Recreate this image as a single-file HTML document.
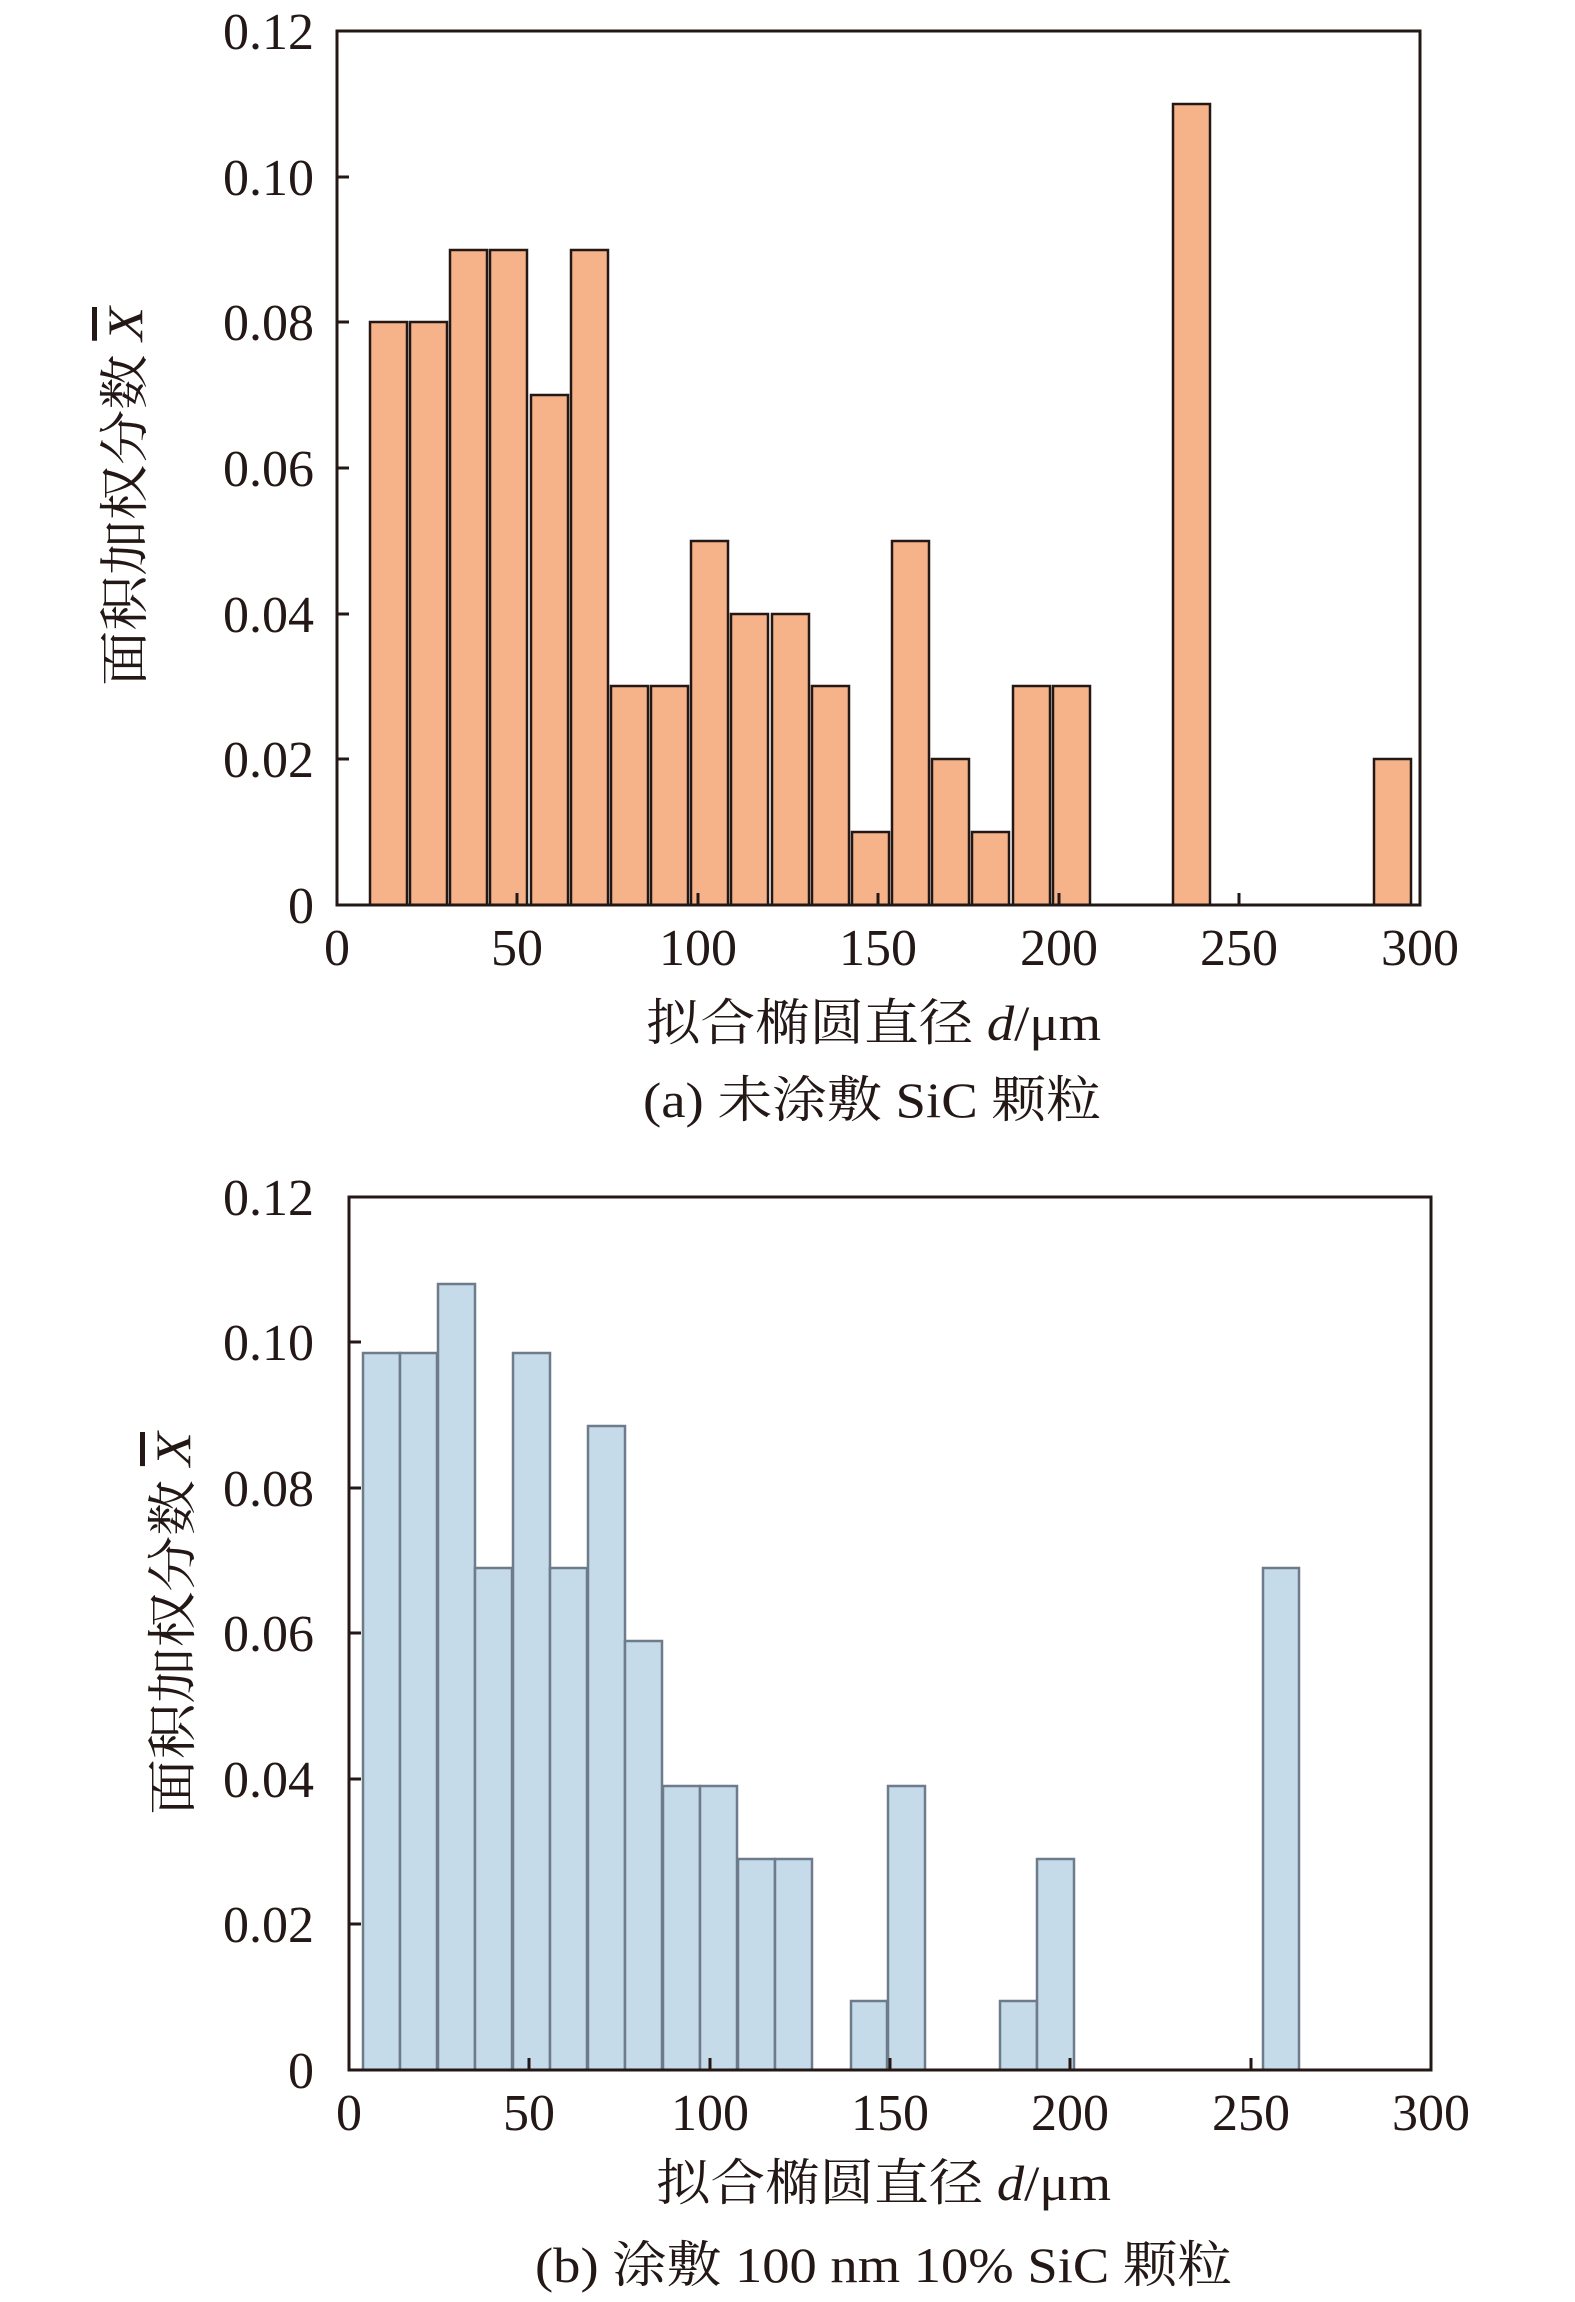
<!DOCTYPE html>
<html><head><meta charset="utf-8"><style>
html,body{margin:0;padding:0;background:#fff;}
svg{display:block;}
text{font-family:"Liberation Serif","Noto Serif CJK SC","Noto Sans CJK SC",serif;fill:#231815;}
</style></head><body>
<svg width="1575" height="2302" viewBox="0 0 1575 2302" xmlns="http://www.w3.org/2000/svg">
<g id="a">
<g fill="#f6b389" stroke="#231815" stroke-width="2.5">
<rect x="370" y="322" width="37" height="583"/>
<rect x="410" y="322" width="37" height="583"/>
<rect x="450" y="250" width="37" height="655"/>
<rect x="490" y="250" width="37" height="655"/>
<rect x="531" y="395" width="37" height="510"/>
<rect x="571" y="250" width="37" height="655"/>
<rect x="611" y="686" width="37" height="219"/>
<rect x="651" y="686" width="37" height="219"/>
<rect x="691" y="541" width="37" height="364"/>
<rect x="731" y="614" width="37" height="291"/>
<rect x="772" y="614" width="37" height="291"/>
<rect x="812" y="686" width="37" height="219"/>
<rect x="852" y="832" width="37" height="73"/>
<rect x="892" y="541" width="37" height="364"/>
<rect x="932" y="759" width="37" height="146"/>
<rect x="972" y="832" width="37" height="73"/>
<rect x="1013" y="686" width="37" height="219"/>
<rect x="1053" y="686" width="37" height="219"/>
<rect x="1173" y="104" width="37" height="801"/>
<rect x="1374" y="759" width="37" height="146"/>
</g>
<rect x="337" y="31" width="1083" height="874" fill="none" stroke="#231815" stroke-width="3"/>
<g stroke="#231815" stroke-width="3">
<line x1="337" y1="759" x2="349" y2="759"/><line x1="337" y1="614" x2="349" y2="614"/><line x1="337" y1="468" x2="349" y2="468"/><line x1="337" y1="322" x2="349" y2="322"/><line x1="337" y1="177" x2="349" y2="177"/>
<line x1="517" y1="905" x2="517" y2="893"/><line x1="698" y1="905" x2="698" y2="893"/><line x1="878" y1="905" x2="878" y2="893"/><line x1="1059" y1="905" x2="1059" y2="893"/><line x1="1239" y1="905" x2="1239" y2="893"/>
</g>
<g font-size="52" text-anchor="end">
<text x="314" y="923">0</text><text x="314" y="777">0.02</text><text x="314" y="632">0.04</text><text x="314" y="486">0.06</text><text x="314" y="340">0.08</text><text x="314" y="195">0.10</text><text x="314" y="49">0.12</text>
</g>
<g font-size="52" text-anchor="middle">
<text x="337" y="965">0</text><text x="517" y="965">50</text><text x="698" y="965">100</text><text x="878" y="965">150</text><text x="1059" y="965">200</text><text x="1239" y="965">250</text><text x="1420" y="965">300</text>
</g>
<text x="646" y="1040" font-size="50" textLength="455" lengthAdjust="spacingAndGlyphs">拟合椭圆直径 <tspan font-style="italic">d</tspan>/μm</text>
<text x="643" y="1117" font-size="50" textLength="458" lengthAdjust="spacingAndGlyphs">(a) 未涂敷 SiC 颗粒</text>
<text transform="translate(142,686) rotate(-90)" font-size="50" textLength="379" lengthAdjust="spacingAndGlyphs">面积加权分数 <tspan font-style="italic" text-decoration="overline">X</tspan></text>
</g>
<g id="b">
<g fill="#c5dbea" stroke="#6e7b8a" stroke-width="2.5">
<rect x="363" y="1353" width="37" height="717"/>
<rect x="400" y="1353" width="37" height="717"/>
<rect x="438" y="1284" width="37" height="786"/>
<rect x="475" y="1568" width="37" height="502"/>
<rect x="513" y="1353" width="37" height="717"/>
<rect x="550" y="1568" width="37" height="502"/>
<rect x="588" y="1426" width="37" height="644"/>
<rect x="625" y="1641" width="37" height="429"/>
<rect x="663" y="1786" width="37" height="284"/>
<rect x="700" y="1786" width="37" height="284"/>
<rect x="738" y="1859" width="37" height="211"/>
<rect x="775" y="1859" width="37" height="211"/>
<rect x="851" y="2001" width="36" height="69"/>
<rect x="888" y="1786" width="37" height="284"/>
<rect x="1000" y="2001" width="37" height="69"/>
<rect x="1037" y="1859" width="37" height="211"/>
<rect x="1263" y="1568" width="36" height="502"/>
</g>
<rect x="349" y="1197" width="1082" height="873" fill="none" stroke="#231815" stroke-width="3"/>
<g stroke="#231815" stroke-width="3">
<line x1="349" y1="1924" x2="361" y2="1924"/><line x1="349" y1="1779" x2="361" y2="1779"/><line x1="349" y1="1633" x2="361" y2="1633"/><line x1="349" y1="1488" x2="361" y2="1488"/><line x1="349" y1="1342" x2="361" y2="1342"/>
<line x1="529" y1="2070" x2="529" y2="2058"/><line x1="710" y1="2070" x2="710" y2="2058"/><line x1="890" y1="2070" x2="890" y2="2058"/><line x1="1070" y1="2070" x2="1070" y2="2058"/><line x1="1251" y1="2070" x2="1251" y2="2058"/>
</g>
<g font-size="52" text-anchor="end">
<text x="314" y="2088">0</text><text x="314" y="1942">0.02</text><text x="314" y="1797">0.04</text><text x="314" y="1651">0.06</text><text x="314" y="1506">0.08</text><text x="314" y="1360">0.10</text><text x="314" y="1215">0.12</text>
</g>
<g font-size="52" text-anchor="middle">
<text x="349" y="2130">0</text><text x="529" y="2130">50</text><text x="710" y="2130">100</text><text x="890" y="2130">150</text><text x="1070" y="2130">200</text><text x="1251" y="2130">250</text><text x="1431" y="2130">300</text>
</g>
<text x="656" y="2200" font-size="50" textLength="455" lengthAdjust="spacingAndGlyphs">拟合椭圆直径 <tspan font-style="italic">d</tspan>/μm</text>
<text x="535" y="2282" font-size="50" textLength="697" lengthAdjust="spacingAndGlyphs">(b) 涂敷 100 nm 10% SiC 颗粒</text>
<text transform="translate(190,1815) rotate(-90)" font-size="50" textLength="383" lengthAdjust="spacingAndGlyphs">面积加权分数 <tspan font-style="italic" text-decoration="overline">X</tspan></text>
</g>
</svg>
</body></html>
